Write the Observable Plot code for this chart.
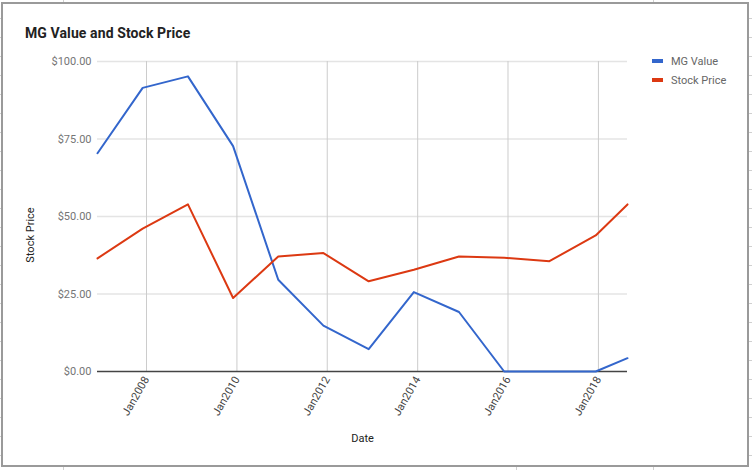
<!DOCTYPE html>
<html>
<head>
<meta charset="utf-8">
<script src="https://cdn.jsdelivr.net/npm/d3@7"></script>
<script src="https://cdn.jsdelivr.net/npm/@observablehq/plot@0.6"></script>
<style>
  html, body { margin: 0; padding: 0; background: #fff; }
  body { width: 752px; height: 470px; overflow: hidden; position: relative; font-family: Roboto, "Liberation Sans", sans-serif; }
  #chart { position: absolute; left: 0; top: 0; }
  #frame { position: absolute; left: 1px; top: 2px; width: 748px; height: 465px; box-sizing: border-box; border: 2px solid #9a9a9a; pointer-events: none; }
  .edge { position: absolute; pointer-events: none; }
  #edgeR { left: 749px; top: 0; width: 3px; height: 470px; background: repeating-linear-gradient(to bottom, transparent 0 18px, #d0d0d0 18px 19px); }
  #edgeL { left: 0; top: 0; width: 1px; height: 470px; background: repeating-linear-gradient(to bottom, transparent 0 18px, #d0d0d0 18px 19px); }
  .vt { position: absolute; width: 1px; background: #d0d0d0; }
  #title { position: absolute; left: 25px; top: 25px; font-size: 14px; font-weight: bold; color: #222; white-space: nowrap; letter-spacing: 0.1px; }
  .leg { position: absolute; left: 652px; font-size: 11px; color: #666; white-space: nowrap; height: 14px; line-height: 14px; }
  .leg span.sw { display: inline-block; width: 11px; height: 4px; vertical-align: middle; margin-right: 8px; position: relative; top: -1px; }
  #ylab { position: absolute; left: 30px; top: 235px; font-size: 11px; color: #222; white-space: nowrap; transform: translate(-50%, -50%) rotate(-90deg); }
</style>
</head>
<body>
<div id="edgeL" class="edge"></div>
<div id="edgeR" class="edge"></div>
<div class="vt" style="left:63px;top:0;height:2px"></div>
<div class="vt" style="left:63px;top:467px;height:3px"></div>
<div class="vt" style="left:516px;top:467px;height:3px"></div>
<div class="vt" style="left:653px;top:0;height:2px"></div>
<div class="vt" style="left:653px;top:467px;height:3px"></div>
<div id="chart"></div>
<div id="frame"></div>
<div id="title">MG Value and Stock Price</div>
<div id="ylab">Stock Price</div>
<div id="legend"></div>
<script>
const dates = ["2006-12-01","2007-12-01","2008-12-01","2009-12-01","2010-12-01","2011-12-01","2012-12-01","2013-12-01","2014-12-01","2015-12-01","2016-12-01","2017-12-10","2018-08-24"];
const mgValue = [70.4, 91.5, 95.2, 72.7, 29.6, 14.8, 7.2, 25.6, 19.2, 0, 0, 0, 4.3];
const stockPrice = [36.5, 46.1, 53.9, 23.7, 37.1, 38.2, 29.1, 32.8, 37.1, 36.7, 35.6, 43.9, 53.9];
const seriesNames = ["MG Value", "Stock Price"];
const seriesColors = ["#3366cc", "#dc3912"];
const yTicks = [0, 25, 50, 75, 100];
const xTickDates = ["2008-01-01","2010-01-01","2012-01-01","2014-01-01","2016-01-01","2018-01-01"];

const parse = d3.utcParse("%Y-%m-%d");
const rows = [];
dates.forEach((d, i) => {
  rows.push({date: parse(d), value: mgValue[i], series: seriesNames[0]});
  rows.push({date: parse(d), value: stockPrice[i], series: seriesNames[1]});
});
const xTicks = xTickDates.map(parse);
const fmtX = d3.utcFormat("%b%Y");

const chart = Plot.plot({
  width: 752,
  height: 470,
  marginLeft: 97,
  marginRight: 125,
  marginTop: 61,
  marginBottom: 99,
  style: {fontFamily: "Roboto, 'Liberation Sans', sans-serif", fontSize: "11px", background: "transparent"},
  x: {type: "utc", domain: [parse(dates[0]), parse(dates[dates.length - 1])]},
  y: {domain: [0, 100]},
  color: {domain: seriesNames, range: seriesColors},
  marks: [
    Plot.ruleY(yTicks.filter(d => d > 0), {stroke: "#e4e4e4", strokeWidth: 1.5}),
    Plot.ruleX(xTicks, {stroke: "#cccccc", strokeWidth: 1}),
    Plot.axisY({ticks: yTicks, tickFormat: d => "$" + d.toFixed(2), tickSize: 0, tickPadding: 6, label: null, fill: "#757575", fontSize: 11}),
    Plot.axisX({ticks: xTicks, tickFormat: fmtX, tickSize: 0, tickPadding: 6, tickRotate: -60, label: null, fill: "#444", fontSize: 11}),
    Plot.text(["Date"], {frameAnchor: "bottom", dy: 70, fill: "#222", fontSize: 11}),
    Plot.ruleY([0], {stroke: "#444", strokeWidth: 1.5}),
    Plot.line(rows, {x: "date", y: "value", z: "series", stroke: "series", strokeWidth: 2, strokeLinejoin: "round"})
  ]
});
document.getElementById("chart").appendChild(chart);

const legend = document.getElementById("legend");
seriesNames.forEach((name, i) => {
  const el = document.createElement("div");
  el.className = "leg";
  el.style.top = (55 + i * 19) + "px";
  el.innerHTML = `<span class="sw" style="background:${seriesColors[i]}"></span>${name}`;
  legend.appendChild(el);
});
</script>
</body>
</html>
